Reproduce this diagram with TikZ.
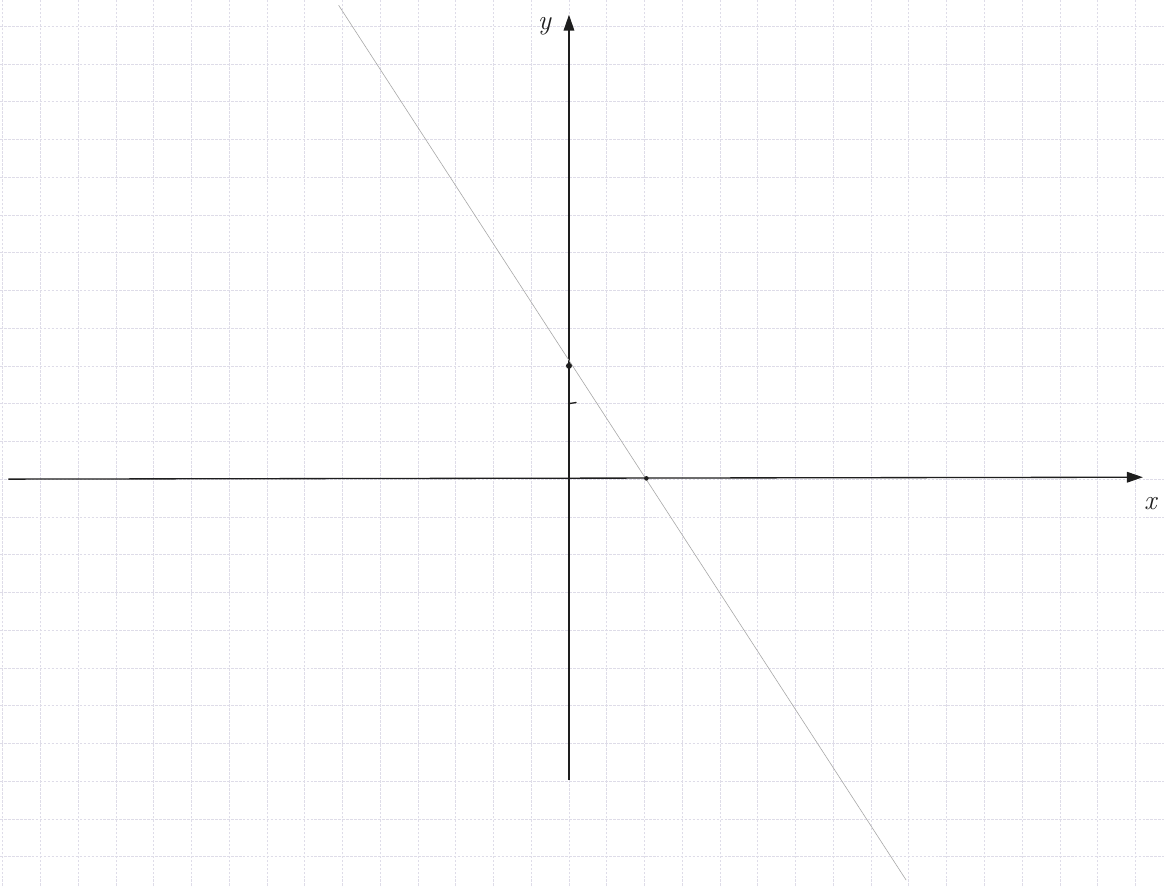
\documentclass[tikz,border=0pt]{standalone}
\usepackage{tikz}
\usepackage{xcolor}
\usetikzlibrary{positioning, arrows.meta, calc}
\definecolor{gridline}{HTML}{DEDCE8}
\definecolor{ink}{HTML}{1E1E1E}
\definecolor{pencil}{HTML}{A8A8A8}

\begin{document}
\begin{tikzpicture}[
    x=1cm, y=1cm,
    gridrule/.style={gridline, dash pattern=on 2pt off 1pt, line width=0.45pt},
    axis/.style={ink, line width=1pt, -{Triangle[length=12pt, width=8pt]}},
    graphline/.style={pencil, line width=0.45pt},
    dot/.style={circle, fill=ink, inner sep=0pt, minimum size=4.5pt},
    tickmark/.style={ink, line width=1pt},
    axlabel/.style={text=ink, font=\huge\itshape}
  ]
    \useasboundingbox (-15.07,-10.78) rectangle (15.76,12.69);
    \fill[white] (-15.07,-10.78) rectangle (15.76,12.69);

    % squared paper
    \foreach \i in {-15,...,15}
      \draw[gridrule] (\i,-10.78) -- (\i,12.69);
    \foreach \j in {-10,...,12}
      \draw[gridrule] (-15.07,\j) -- (15.76,\j);

    % axes
    \coordinate (xstart) at (-14.85,0);
    \coordinate (xend) at (15.2,0.05);
    \coordinate (ystart) at (0,-7.97);
    \coordinate (yend) at (0,12.3);
    \draw[axis] (xstart) -- (xend);
    \draw[axis] (ystart) -- (yend);
    \node[axlabel] (xlab) at (15.4,-0.65) {x};
    \node[axlabel] (ylab) at (-0.65,12.0) {y};

    % tick at y = 2
    \coordinate (tick) at (0,2);
    \draw[tickmark] (tick) -- ++(0.2,0.03);

    % the line y = 3 - 3x/2
    \coordinate (lstart) at (-6.1,12.55);
    \coordinate (lend) at (8.93,-10.62);
    \draw[graphline] (lstart) -- (lend);
    \node[dot] (yint) at (0,3) {};
    \node[dot, minimum size=3.5pt] (xint) at (2.05,0.02) {};
  \end{tikzpicture}
\end{document}
